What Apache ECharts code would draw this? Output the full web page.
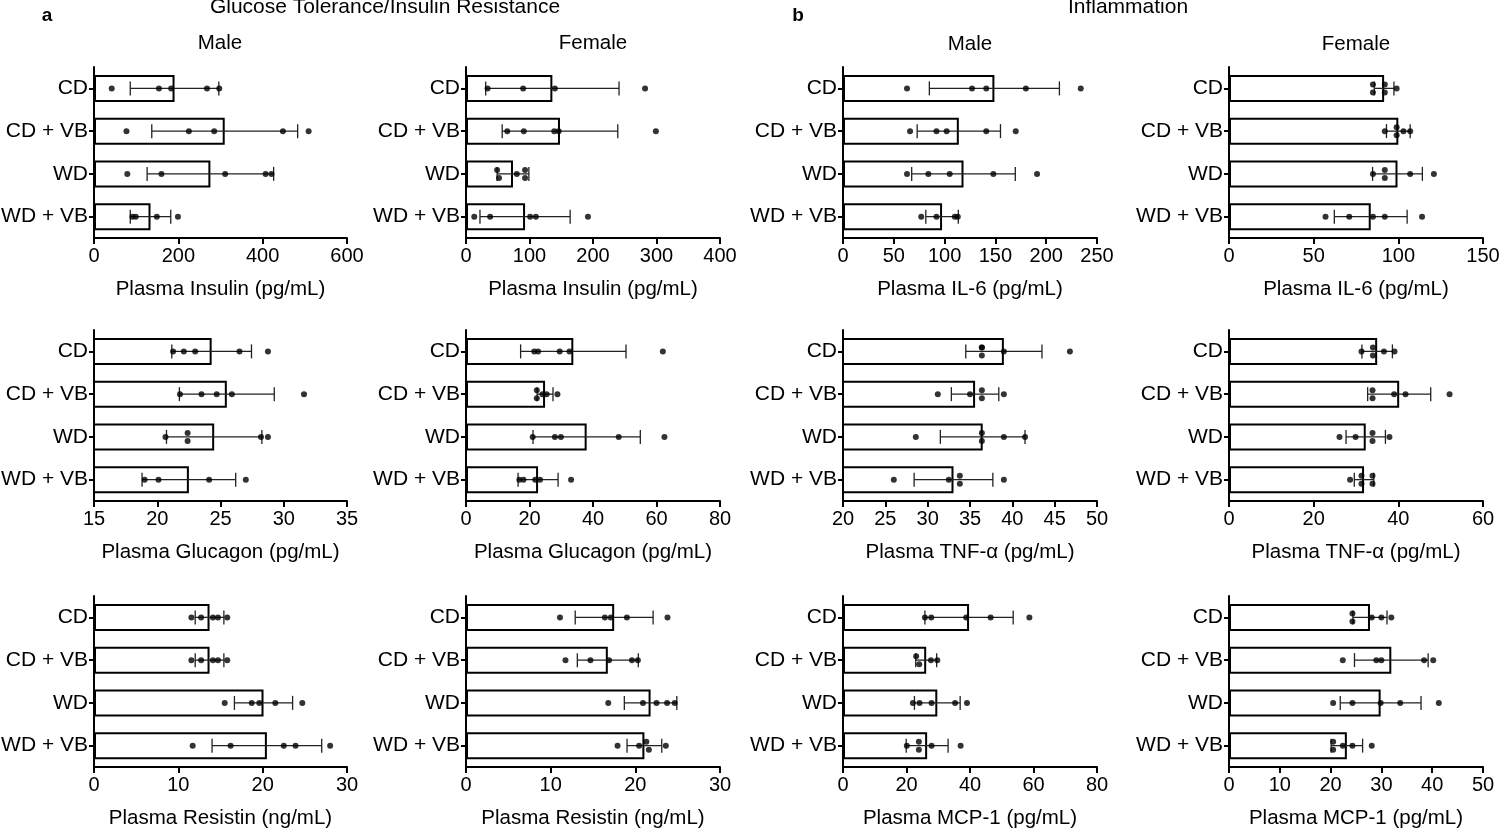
<!DOCTYPE html>
<html><head><meta charset="utf-8">
<script src="https://cdn.jsdelivr.net/npm/echarts@6/dist/echarts.min.js"></script>
<style>html,body{margin:0;padding:0;background:#fff}#c{width:1500px;height:828px}</style>
</head><body><div id="c"></div>
<script>
const categories = ['CD', 'CD + VB', 'WD', 'WD + VB'];

// Glucose tolerance / insulin resistance
const insulinMaleMean = [191, 310, 276, 134];
const insulinMaleSD = [105, 173, 150, 48];
const insulinMaleDots = [[42,154,183,268,297],[77,225,285,448,509],[79,160,311,407,421],[91,99,149,199]];

const insulinFemaleMean = [136, 148, 74, 93];
const insulinFemaleSD = [105, 91, 25, 71];
const insulinFemaleDots = [[34,90,140,282],[65,91,139,146,299],[49,52,80,93,93],[13,38,101,110,192]];

const glucagonMaleMean = [24.3, 25.5, 24.5, 22.5];
const glucagonMaleSD = [3.15, 3.75, 3.77, 3.7];
const glucagonMaleDots = [[21.25,22.1,23,26.5,28.75],[21.8,23.5,24.7,25.9,31.6],[20.65,22.4,22.4,28.2,28.75],[19,20.1,24.1,27]];

const glucagonFemaleMean = [33.8, 24.9, 38, 22.7];
const glucagonFemaleSD = [16.6, 2.5, 16.9, 6.3];
const glucagonFemaleDots = [[21.5,22.7,29.5,32.6,62],[22.3,22.3,24.1,25.4,28.8],[21,28,29.9,48.1,62.5],[16.8,18.1,21.8,23.3,33.1]];

const resistinMaleMean = [13.7, 13.7, 20.1, 20.5];
const resistinMaleSD = [1.7, 1.7, 3.45, 6.5];
const resistinMaleDots = [[11.55,12.7,14.1,14.7,15.8],[11.55,12.7,14.1,14.7,15.8],[15.5,18.7,19.6,21.5,24.7],[11.7,16.2,22.5,23.9,28]];

const resistinFemaleMean = [17.5, 16.75, 21.8, 21.07];
const resistinFemaleSD = [4.6, 3.6, 3.1, 2.05];
const resistinFemaleDots = [[11.1,16.4,17.1,19,23.8],[11.75,14.7,16.9,19.6,20.3],[16.8,20.9,22.5,23.75,24.65],[17.9,20.45,21.3,21.6,23.6]];

// Inflammation
const il6MaleMean = [149, 114, 118.6, 97.5];
const il6MaleSD = [64, 41, 51, 16];
const il6MaleDots = [[63,127,141,180,234],[66,92,102,141,170],[63,84,105,148,191],[77,92,110,113]];

const il6FemaleMean = [91.6, 100, 99.5, 83.7];
const il6FemaleSD = [5.8, 7, 14.7, 21.5];
const il6FemaleDots = [[85,85,92,92,99],[92,99,99,103,107],[85,92,92,107,121],[57,71,85,92,114]];

const tnfMaleMean = [39, 35.6, 36.5, 33.05];
const tnfMaleSD = [4.5, 2.8, 5, 4.65];
const tnfMaleDots = [[36.4,36.4,36.4,39,46.8],[31.2,35,36.4,36.4,39],[28.6,36.4,36.4,39,41.5],[26,32.5,33.8,33.8,39]];

const tnfFemaleMean = [35, 40.2, 32.3, 31.9];
const tnfFemaleSD = [3.6, 7.45, 4.65, 2.3];
const tnfFemaleDots = [[31.3,34,34,36.6,39.1],[33.9,33.9,39,41.7,52.1],[26.1,29.9,33.9,33.9,37.9],[28.6,31.3,31.3,33.9,33.9]];

const mcpMaleMean = [39.7, 26.2, 29.7, 26.5];
const mcpMaleSD = [13.9, 3.3, 7.2, 6.6];
const mcpMaleDots = [[25.8,27.8,38.8,46.5,58.7],[23.05,24,27.7,29.7],[22,24.1,27.9,35.3,39.05],[20.1,23.9,23.9,27.9,37.05]];

const mcpFemaleMean = [27.75, 31.95, 29.85, 23.2];
const mcpFemaleSD = [3.35, 7.25, 7.95, 3.1];
const mcpFemaleDots = [[24.3,24.3,28.1,30,31.95],[22.4,29,30,38.4,40.2],[20.5,24.3,29.85,33.7,41.3],[20.5,20.5,22.4,24.3,28.1]];

// axis ranges [min, max, interval] and titles
const panels = [
  {mean: insulinMaleMean, sd: insulinMaleSD, dots: insulinMaleDots, axis: [0, 600, 200], name: 'Plasma Insulin (pg/mL)', row: 0, col: 0},
  {mean: insulinFemaleMean, sd: insulinFemaleSD, dots: insulinFemaleDots, axis: [0, 400, 100], name: 'Plasma Insulin (pg/mL)', row: 0, col: 1},
  {mean: il6MaleMean, sd: il6MaleSD, dots: il6MaleDots, axis: [0, 250, 50], name: 'Plasma IL-6 (pg/mL)', row: 0, col: 2},
  {mean: il6FemaleMean, sd: il6FemaleSD, dots: il6FemaleDots, axis: [0, 150, 50], name: 'Plasma IL-6 (pg/mL)', row: 0, col: 3},
  {mean: glucagonMaleMean, sd: glucagonMaleSD, dots: glucagonMaleDots, axis: [15, 35, 5], name: 'Plasma Glucagon (pg/mL)', row: 1, col: 0},
  {mean: glucagonFemaleMean, sd: glucagonFemaleSD, dots: glucagonFemaleDots, axis: [0, 80, 20], name: 'Plasma Glucagon (pg/mL)', row: 1, col: 1},
  {mean: tnfMaleMean, sd: tnfMaleSD, dots: tnfMaleDots, axis: [20, 50, 5], name: 'Plasma TNF-α (pg/mL)', row: 1, col: 2},
  {mean: tnfFemaleMean, sd: tnfFemaleSD, dots: tnfFemaleDots, axis: [0, 60, 20], name: 'Plasma TNF-α (pg/mL)', row: 1, col: 3},
  {mean: resistinMaleMean, sd: resistinMaleSD, dots: resistinMaleDots, axis: [0, 30, 10], name: 'Plasma Resistin (ng/mL)', row: 2, col: 0},
  {mean: resistinFemaleMean, sd: resistinFemaleSD, dots: resistinFemaleDots, axis: [0, 30, 10], name: 'Plasma Resistin (ng/mL)', row: 2, col: 1},
  {mean: mcpMaleMean, sd: mcpMaleSD, dots: mcpMaleDots, axis: [0, 80, 20], name: 'Plasma MCP-1 (pg/mL)', row: 2, col: 2},
  {mean: mcpFemaleMean, sd: mcpFemaleSD, dots: mcpFemaleDots, axis: [0, 50, 10], name: 'Plasma MCP-1 (pg/mL)', row: 2, col: 3}
];

const FONT = '"Liberation Sans", Arial, sans-serif';
const colLeft = [94, 466, 843, 1229];
const colWidth = [253, 254, 254, 254];
const rowTop = [67, 330, 596];
const rowHeight = 171;

const grids = [], xAxes = [], yAxes = [], series = [];
panels.forEach((p, i) => {
  grids.push({left: colLeft[p.col], top: rowTop[p.row], width: colWidth[p.col], height: rowHeight,
              containLabel: false, outerBoundsMode: 'none'});
  xAxes.push({
    type: 'value', gridIndex: i, min: p.axis[0], max: p.axis[1], interval: p.axis[2],
    splitLine: {show: false},
    axisLine: {show: true, lineStyle: {color: '#000', width: 2}},
    axisTick: {show: true, length: 6, lineStyle: {color: '#000', width: 2}},
    axisLabel: {color: '#000', fontSize: 20, fontFamily: FONT, margin: 8},
    name: p.name, nameLocation: 'middle', nameGap: 41,
    nameTextStyle: {color: '#000', fontSize: 20.5, fontFamily: FONT}
  });
  yAxes.push({
    type: 'category', gridIndex: i, data: categories, inverse: true,
    axisLine: {show: true, lineStyle: {color: '#000', width: 2}},
    axisTick: {show: true, alignWithLabel: true, length: 5, lineStyle: {color: '#000', width: 2}},
    axisLabel: {color: '#000', fontSize: 21, fontFamily: FONT, margin: 6}
  });
  series.push({
    type: 'bar', xAxisIndex: i, yAxisIndex: i, barWidth: 27, clip: true,
    itemStyle: {color: '#fff', borderColor: '#000', borderWidth: 2},
    data: p.mean, z: 2, silent: true
  });
  series.push({
    type: 'custom', xAxisIndex: i, yAxisIndex: i, z: 3, silent: true,
    encode: {x: 0, y: 1},
    data: p.mean.map((m, k) => [m, k, p.sd[k]]),
    renderItem: (params, api) => {
      const m = api.value(0), k = api.value(1), s = api.value(2);
      const a = api.coord([m - s, k]), b = api.coord([m + s, k]);
      const h = 7, st = {stroke: '#222', lineWidth: 1.3};
      return {type: 'group', children: [
        {type: 'line', shape: {x1: a[0], y1: a[1], x2: b[0], y2: b[1]}, style: st},
        {type: 'line', shape: {x1: a[0], y1: a[1] - h, x2: a[0], y2: a[1] + h}, style: st},
        {type: 'line', shape: {x1: b[0], y1: b[1] - h, x2: b[0], y2: b[1] + h}, style: st}
      ]};
    }
  });
  // dots; near-coincident points are split vertically like the reference
  const span = p.axis[1] - p.axis[0];
  const pts = [];
  p.dots.forEach((arr, k) => {
    const sorted = arr.slice().sort((x, y) => x - y);
    let flip = false;
    sorted.forEach((v, j) => {
      const near = (j > 0 && Math.abs(v - sorted[j - 1]) < span * 0.012) ||
                   (j < sorted.length - 1 && Math.abs(sorted[j + 1] - v) < span * 0.012);
      let off = 0;
      if (near) { off = flip ? 4 : -4; flip = !flip; } else { flip = false; }
      pts.push({value: [v, k], symbolOffset: [0, off]});
    });
  });
  series.push({
    type: 'scatter', xAxisIndex: i, yAxisIndex: i, z: 4, silent: true,
    symbol: 'circle', symbolSize: 6, itemStyle: {color: '#000'},
    data: pts
  });
});

const txt = (t, x, y, size, bold) => ({
  type: 'text', x: x, y: y,
  style: {text: t, fill: '#000', font: (bold ? 'bold ' : '') + size + 'px ' + FONT,
          align: 'center', verticalAlign: 'middle', textAlign: 'center', textVerticalAlign: 'middle'}
});

const chart = echarts.init(document.getElementById('c'), null, {renderer: 'canvas'});
chart.setOption({
  backgroundColor: '#fff',
  animation: false,
  grid: grids, xAxis: xAxes, yAxis: yAxes, series: series,
  graphic: [
    txt('a', 47, 16, 19, true),
    txt('Glucose Tolerance/Insulin Resistance', 385, 7, 21, false),
    txt('b', 798, 16, 19, true),
    txt('Inflammation', 1128, 7, 21, false),
    txt('Male', 220, 43, 20.5, false),
    txt('Female', 593, 43, 20.5, false),
    txt('Male', 970, 44, 20.5, false),
    txt('Female', 1356, 44, 20.5, false)
  ]
});
</script>
</body></html>
